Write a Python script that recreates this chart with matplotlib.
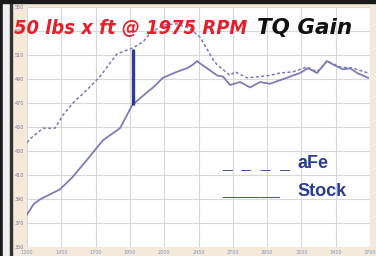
import matplotlib
matplotlib.use("Agg")
import matplotlib.pyplot as plt
from matplotlib.patches import Rectangle
import numpy as np

# dyno readings (rpm, lbs x ft)
stock_rpm = [1200, 1250, 1300, 1370, 1440, 1530, 1640, 1754, 1878, 1966, 2024, 2119,
             2191, 2293, 2366, 2410, 2439, 2461, 2512, 2585, 2629, 2680, 2753, 2826,
             2899, 2971, 3044, 3117, 3190, 3248, 3314, 3387, 3431, 3504, 3555, 3606, 3686]
stock_tq = [377, 386, 390, 394, 398, 408, 423, 439, 449, 468, 474, 483,
            491, 496, 499, 502, 505, 503, 499, 493, 492, 485, 487.5, 483,
            487.5, 486, 489, 492, 495, 499, 495, 505, 502, 498, 499, 495, 491]

afe_rpm = [1200, 1222, 1317, 1404, 1462, 1535, 1637, 1732, 1856, 1973, 2046, 2097,
           2191, 2293, 2388, 2461, 2512, 2556, 2585, 2680, 2716, 2804, 2899, 2971,
           3044, 3139, 3241, 3314, 3387, 3482, 3577, 3686]
afe_tq = [437, 440, 449, 449, 460, 470, 481, 492, 511, 516, 521, 528,
          535, 536, 532, 525, 515, 506, 502, 493, 496, 491, 492, 493,
          495, 496, 500, 496, 505, 500, 499, 495]

gain_rpm = 1975
gain_low, gain_high = 468, 515

yticks = [350, 370, 390, 410, 430, 450, 470, 490, 510, 530, 550]
xticks = [1200, 1450, 1700, 1950, 2200, 2450, 2700, 2950, 3200, 3450, 3700]

line_col = '#7c7cb8'
blue = '#2a3b9c'

fig = plt.figure(figsize=(3.76, 2.56), dpi=100)
fig.patch.set_facecolor('#f5e9da')

# black frame on left and top
fig.add_artist(Rectangle((0, 0), 3/376, 1, transform=fig.transFigure, color='#1a1a1a', zorder=0))
fig.add_artist(Rectangle((3/376, 0), 7/376, 1, transform=fig.transFigure, color='#f0f0f0', zorder=0))
fig.add_artist(Rectangle((10/376, 0), 2/376, 1, transform=fig.transFigure, color='#333333', zorder=0))
fig.add_artist(Rectangle((0, 1 - 3/256), 1, 3/256, transform=fig.transFigure, color='#1a1a1a', zorder=0))

ax = fig.add_axes([27/376, 9/256, 343/376, 240/256])
ax.set_facecolor('white')
ax.set_xlim(1200, 3700)
ax.set_ylim(350, 550)
ax.set_xticks(xticks)
ax.set_yticks(yticks)
ax.set_yticklabels([str(v) for v in yticks], fontsize=3.5, color='#7a7a9a')
ax.set_xticklabels([str(v) for v in xticks], fontsize=3.5, color='#7a9ac8')
ax.tick_params(length=0, pad=2)
ax.grid(True, color='#d8d8d8', linewidth=0.8)
for s in ax.spines.values():
    s.set_visible(False)

ax.plot(afe_rpm, afe_tq, color=line_col, linestyle=(0, (2, 1.5)), linewidth=1.1)
ax.plot(stock_rpm, stock_tq, color=line_col, linewidth=1.3)
ax.vlines(gain_rpm, gain_low, gain_high, color=blue, linewidth=2.4, zorder=5)

title_font = ['DejaVu Sans']
fig.text(14/376, 1 - 34/256, "50 lbs x ft @ 1975 RPM", color='#e3202b', fontsize=14.4,
         fontweight='bold', fontstyle='italic', fontstretch='condensed',
         family=title_font, va='baseline')
fig.text(257/376, 1 - 34/256, "TQ Gain", color='#111111', fontsize=15.5,
         fontweight='bold', fontstyle='italic', family=title_font, va='baseline')

leg_font = ['Liberation Sans', 'DejaVu Sans']
fig.text(222/376, 1 - 168/256, "_  _  _  _", color=blue, fontsize=12.5,
         fontweight='bold', family=leg_font, va='baseline')
fig.text(297/376, 1 - 168/256, "aFe", color=blue, fontsize=13,
         fontweight='bold', family=leg_font, va='baseline')
fig.text(222/376, 1 - 196/256, "______", color=blue, fontsize=12.5,
         fontweight='bold', family=leg_font, va='baseline')
fig.text(297/376, 1 - 196/256, "Stock", color=blue, fontsize=13,
         fontweight='bold', family=leg_font, va='baseline')

fig.savefig("out.png", dpi=100)
